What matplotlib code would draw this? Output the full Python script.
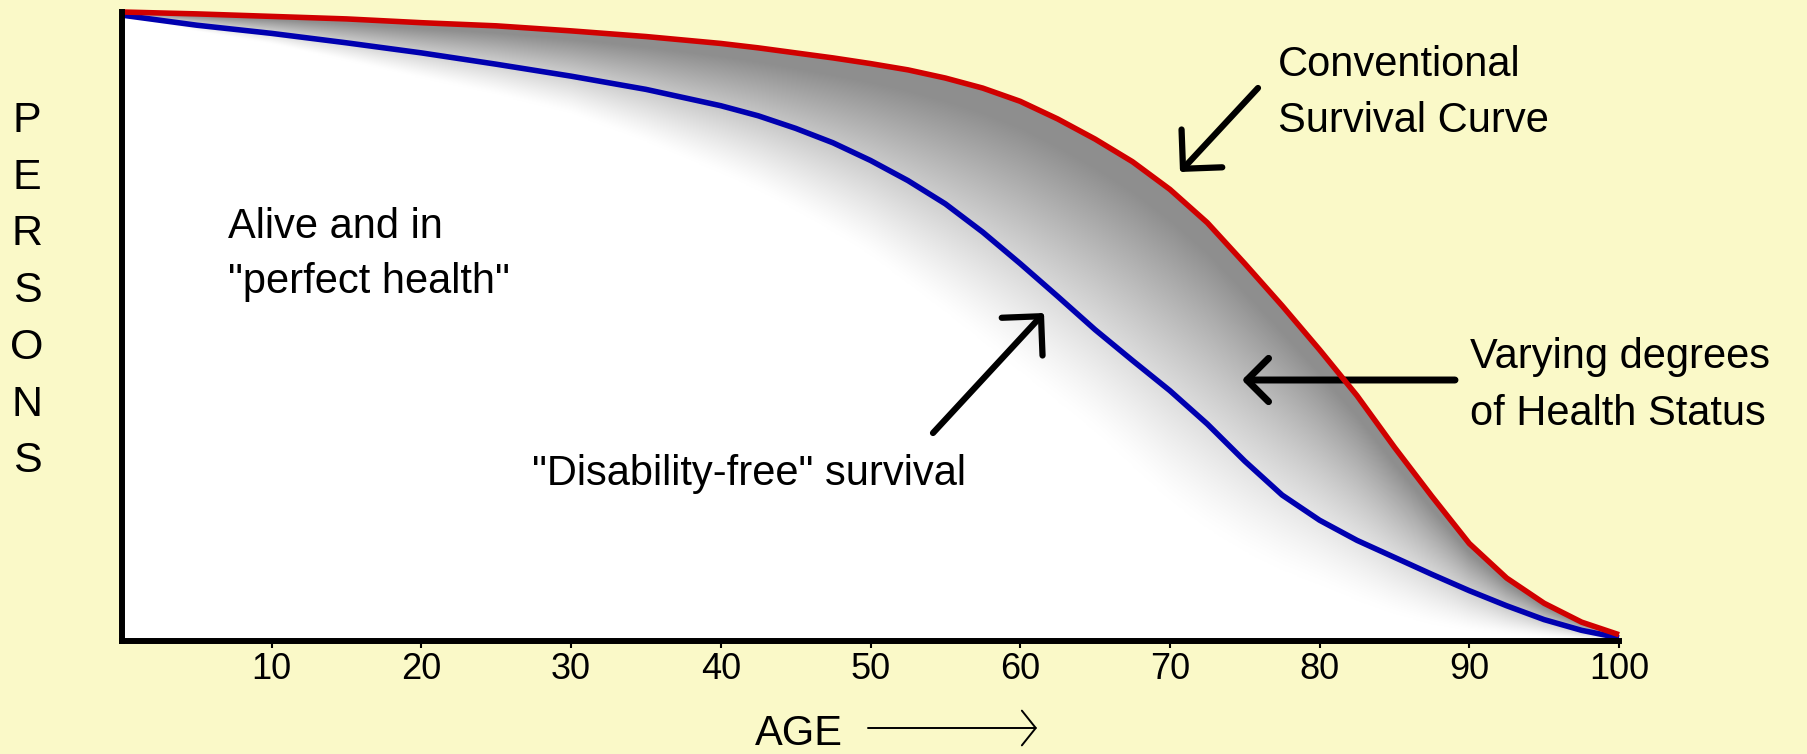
import numpy as np
import matplotlib
matplotlib.use('Agg')
import matplotlib.pyplot as plt
from matplotlib.transforms import IdentityTransform

# values: % of persons alive at each age
ages = [0, 5, 10, 15, 20, 25, 30, 35, 40, 42.5, 45, 47.5, 50, 52.5, 55, 57.5, 60,
        62.5, 65, 67.5, 70, 72.5, 75, 77.5, 80, 82.5, 85, 87.5, 90, 92.5, 95, 97.5, 100]
conventional = [100, 99.7, 99.3, 98.9, 98.3, 97.8, 97.0, 96.1, 95.0, 94.3, 93.5, 92.7, 91.8,
                90.8, 89.5, 87.9, 85.8, 83.0, 79.8, 76.2, 71.8, 66.5, 60.0, 53.3, 46.3,
                39.0, 30.8, 23.0, 15.5, 10.0, 6.0, 3.0, 1.0]
disability_free = [99.5, 97.9, 96.6, 95.1, 93.5, 91.7, 89.8, 87.7, 85.1, 83.5, 81.5, 79.2,
                   76.4, 73.2, 69.5, 65.0, 60.0, 54.8, 49.5, 44.6, 39.8, 34.5, 28.6, 23.2,
                   19.2, 16.0, 13.3, 10.6, 8.0, 5.6, 3.4, 1.7, 0.5]
# lower edge where the grey "health status" shading fades to white
fade_edge = [99.5, 97, 95, 92.3, 89.6, 87, 84, 79.5, 74.5, 71.8, 68.6, 65.2, 61.5, 57,
             52.5, 47.8, 43, 38.3, 33.5, 28, 22.5, 18, 14.3, 11.3, 9, 6.5, 4.3, 2.7, 1.6,
             0.9, 0.5, 0.2, 0]
age_ticks = [10, 20, 30, 40, 50, 60, 70, 80, 90, 100]

W, H = 1808, 754
bg = '#FAF9C8'
font = ['Liberation Sans', 'DejaVu Sans']

fig = plt.figure(figsize=(W / 100, H / 100), dpi=100)
fig.patch.set_facecolor(bg)
ax = fig.add_axes([122 / W, 1 - 641 / H, (1619 - 122) / W, (641 - 12) / H])
ax.set_facecolor('none')

# white area under the conventional survival curve
area = ax.fill_between(ages, conventional, 0, color='white', lw=0, zorder=1)

# grey gradient between the fade edge and the conventional curve
gx = np.linspace(0, 100, 1200)
gy = np.linspace(0, 100, 600)
top = np.interp(gx, ages, conventional)
low = np.interp(gx, ages, fade_edge)
t = (gy[:, None] - low[None, :]) / np.maximum(top - low, 0.5)[None, :]
t = np.clip(t / 0.9, 0, 1)
shade = 1 - 0.44 * t ** 1.25
im = ax.imshow(np.dstack([shade] * 3), extent=(0, 100, 0, 100), origin='lower',
               aspect='auto', interpolation='bilinear', zorder=1.5)
im.set_clip_path(area.get_paths()[0], ax.transData)

ax.plot(ages, disability_free, color='#0000B0', lw=4, zorder=3, clip_on=False,
        solid_capstyle='butt', solid_joinstyle='round')
ax.plot(ages, conventional, color='#D00000', lw=4, zorder=3.1, clip_on=False,
        solid_capstyle='butt', solid_joinstyle='round')

ax.set_xlim(0, 100)
ax.set_ylim(0, 100)
ax.spines['top'].set_visible(False)
ax.spines['right'].set_visible(False)
for s in ['left', 'bottom']:
    ax.spines[s].set_linewidth(4.3)
    ax.spines[s].set_zorder(4)
ax.set_yticks([])
ax.set_xticks(age_ticks)
ax.set_xticklabels([str(a) for a in age_ticks], family=font, fontsize=26)
ax.tick_params(axis='x', direction='out', length=5, width=1.5, pad=3)

# text labels, positioned in figure pixels (y from top)
def label(x, y, s, size=30, **kw):
    fig.text(x, H - y, s, transform=IdentityTransform(), family=font,
             fontsize=size, va='baseline', **kw)

for i, ch in enumerate('PERSONS'):
    label(27, 132 + i * 56.7, ch, size=31, ha='center')
label(228, 238, 'Alive and in')
label(228, 293, '"perfect health"')
label(1278, 76, 'Conventional')
label(1278, 132, 'Survival Curve')
label(1470, 368, 'Varying degrees')
label(1470, 425, 'of Health Status')
label(532, 485, '"Disability-free" survival')
label(755, 745, 'AGE', size=30)

def arrow(x0, y0, x1, y1, lw, hl, hw, ms):
    ax.annotate('', xy=(x1, H - y1), xytext=(x0, H - y0), xycoords='figure pixels',
                textcoords='figure pixels', annotation_clip=False,
                arrowprops=dict(arrowstyle='->,head_length=%g,head_width=%g' % (hl, hw),
                                lw=lw, color='black', shrinkA=0, shrinkB=0,
                                mutation_scale=ms))

arrow(1258, 88, 1180, 172, 4.5, 1.0, 1.0, 20)
arrow(933, 433, 1044, 313, 4.5, 1.0, 1.0, 20)
arrow(1455, 380, 1242, 380, 5, 0.78, 0.78, 20)
arrow(868, 728, 1037, 728, 1.4, 1.0, 1.25, 10)

fig.savefig('out.png', dpi=100, facecolor=bg)
